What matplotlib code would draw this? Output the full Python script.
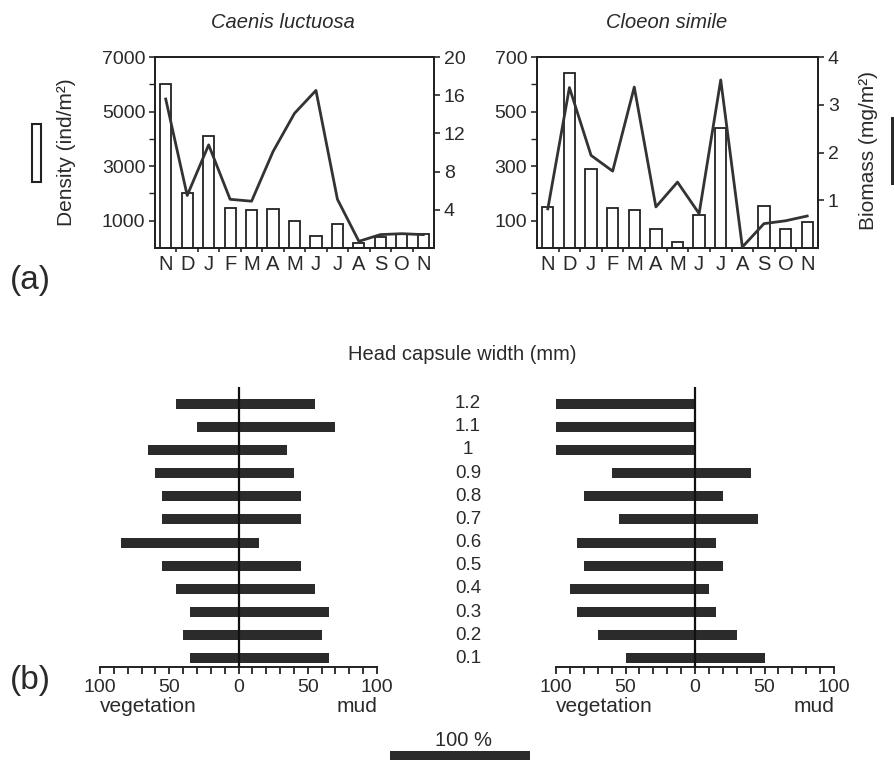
import numpy as np
import matplotlib
matplotlib.use("Agg")
import matplotlib.pyplot as plt
from matplotlib.patches import Rectangle
from matplotlib.ticker import FuncFormatter, MultipleLocator
import matplotlib.transforms as mtrans

plt.rcParams['font.family'] = ['Liberation Sans', 'DejaVu Sans']

# ---------------- data ----------------
months = ["N", "D", "J", "F", "M", "A", "M", "J", "J", "A", "S", "O", "N"]

caenis_density = [6000, 2000, 4100, 1450, 1400, 1430, 1000, 450, 880, 200, 400, 500, 500]
caenis_biomass = [15.6, 5.5, 10.8, 5.1, 4.9, 10.1, 14.1, 16.5, 5.1, 0.7, 1.4, 1.5, 1.4]

cloeon_density = [150, 640, 290, 145, 140, 70, 23, 120, 440, 0, 155, 68, 95]
cloeon_biomass = [0.82, 3.36, 1.94, 1.61, 3.37, 0.86, 1.38, 0.72, 3.52, 0.02, 0.51, 0.57, 0.67]

head_widths = ["0.1", "0.2", "0.3", "0.4", "0.5", "0.6", "0.7", "0.8", "0.9", "1", "1.1", "1.2"]
caenis_veg = [35, 40, 35, 45, 55, 85, 55, 55, 60, 65, 30, 45]
caenis_mud = [65, 60, 65, 55, 45, 15, 45, 45, 40, 35, 70, 55]
cloeon_veg = [50, 70, 85, 90, 80, 85, 55, 80, 60, 100, 100, 100]
cloeon_mud = [50, 30, 15, 10, 20, 15, 45, 20, 40, 0, 0, 0]

# ---------------- figure ----------------
W, H = 894, 760
fig = plt.figure(figsize=(W / 100, H / 100), dpi=100)
TXT = '#2a2a2a'
DARK = '#2b2b2b'


def px_axes(x0, y0, x1, y1):
    return fig.add_axes([x0 / W, 1 - y1 / H, (x1 - x0) / W, (y1 - y0) / H])


def top_panel(box, dens, bio, dlim, dmaj, dmin, blim, bmaj, title, title_x):
    ax = px_axes(*box)
    x = np.arange(len(months))
    ax.bar(x, dens, width=0.52, facecolor='white', edgecolor='#222222', lw=1.3, zorder=2)
    ax.set_xlim(-0.5, len(months) - 0.5)
    ax.set_ylim(0, dlim)
    ax.set_yticks(dmaj)
    ax.set_yticks(dmin, minor=True)
    ax.set_xticks(x)
    ax.set_xticklabels(months)
    ax.set_xticks(x[:-1] + 0.5, minor=True)
    ax.tick_params(axis='x', which='major', length=0, pad=5, labelsize=14.5, colors=TXT)
    ax.tick_params(axis='x', which='minor', length=3, width=1.2, color='#222222')
    ax.tick_params(axis='y', which='major', length=4, width=1.2, labelsize=14, colors=TXT, pad=3)
    ax.tick_params(axis='y', which='minor', length=4, width=1.0, color='#222222')
    for s in ax.spines.values():
        s.set_linewidth(1.4)
        s.set_color('#222222')
    ax2 = ax.twinx()
    ax2.plot(x, bio, color='#333333', lw=2.0, zorder=3)
    ax2.set_ylim(0, blim)
    ax2.set_yticks(bmaj)
    ax2.tick_params(axis='y', length=4, width=1.2, labelsize=14, colors=TXT, pad=3)
    for s in ax2.spines.values():
        s.set_linewidth(1.4)
        s.set_color('#222222')
    fig.text(title_x / W, 1 - 22 / H, title, style='italic', fontsize=14.5, color=TXT,
             ha='center', va='center')
    return ax, ax2


top_panel((155, 57, 434, 248), caenis_density, caenis_biomass, 7000,
          [1000, 3000, 5000, 7000], [2000, 4000, 6000], 20, [4, 8, 12, 16, 20],
          "Caenis luctuosa", 283)
top_panel((537, 57, 818, 248), cloeon_density, cloeon_biomass, 700,
          [100, 300, 500, 700], [200, 400, 600], 4, [1, 2, 3, 4],
          "Cloeon simile", 667)

fig.text(67 / W, 1 - 152 / H, "Density (ind/m²)", rotation=90, fontsize=15,
         color=TXT, ha='center', va='center')
fig.text(868 / W, 1 - 150 / H, "Biomass (mg/m²)", rotation=90, fontsize=15,
         color=TXT, ha='center', va='center')

# legend keys
fig.patches.append(Rectangle((32 / W, 1 - 182 / H), 9 / W, 58 / H, transform=fig.transFigure,
                             facecolor='white', edgecolor='#222222', lw=1.5))
fig.patches.append(Rectangle((891 / W, 1 - 185 / H), 12 / W, 68 / H, transform=fig.transFigure,
                             facecolor=DARK, edgecolor='none'))

fig.text(10 / W, 1 - 280 / H, "(a)", fontsize=24, color=TXT, ha='left', va='center')
fig.text(10 / W, 1 - 680 / H, "(b)", fontsize=24, color=TXT, ha='left', va='center')

# ---------------- bottom panels ----------------
idx = np.arange(len(head_widths))


def bottom_panel(box, veg, mud):
    ax = px_axes(*box)
    veg = np.array(veg)
    mud = np.array(mud)
    ax.barh(idx, veg + mud, left=-veg, height=0.43, color=DARK, zorder=2)
    ax.axvline(0, color='#111111', lw=1.6, zorder=3)
    ax.set_xlim(-100, 100)
    ax.set_ylim(-0.375, 11.716)
    for k in ['left', 'right', 'top']:
        ax.spines[k].set_visible(False)
    ax.spines['bottom'].set_linewidth(1.4)
    ax.spines['bottom'].set_color('#222222')
    ax.set_yticks([])
    ax.set_xticks([-100, -50, 0, 50, 100])
    ax.xaxis.set_minor_locator(MultipleLocator(10))
    ax.xaxis.set_major_formatter(FuncFormatter(lambda v, p: f"{abs(int(v))}"))
    ax.tick_params(axis='x', which='both', length=5, width=1.3, color='#222222',
                   labelsize=14, colors=TXT, pad=4)
    ax.tick_params(axis='x', which='minor', length=5, width=1.3, color='#222222')
    x0 = box[0]
    x1 = box[2]
    fig.text(x0 / W, 1 - 706 / H, "vegetation", ha='left', va='center',
             fontsize=15, color=TXT)
    fig.text(x1 / W, 1 - 706 / H, "mud", ha='right', va='center',
             fontsize=15, color=TXT)
    return ax


axL = bottom_panel((100, 387, 377, 667), caenis_veg, caenis_mud)
axR = bottom_panel((556, 387, 834, 667), cloeon_veg, cloeon_mud)

tr = mtrans.blended_transform_factory(fig.transFigure, axL.transData)
for i, lab in enumerate(head_widths):
    fig.text(468 / W, i, lab, transform=tr, ha='center', va='center', fontsize=13.5, color=TXT)

fig.text(462 / W, 1 - 355 / H, "Head capsule width (mm)", ha='center', va='center',
         fontsize=14.5, color=TXT)

# 100 % scale bar
axS = px_axes(390, 751, 530, 762)
axS.barh([0], [100], height=1.0, color=DARK)
axS.set_xlim(0, 100)
axS.set_ylim(-0.5, 0.5)
axS.axis('off')
fig.text(463 / W, 1 - 740 / H, "100 %", ha='center', va='center', fontsize=14.5, color=TXT)

fig.savefig("out.png", dpi=100)
